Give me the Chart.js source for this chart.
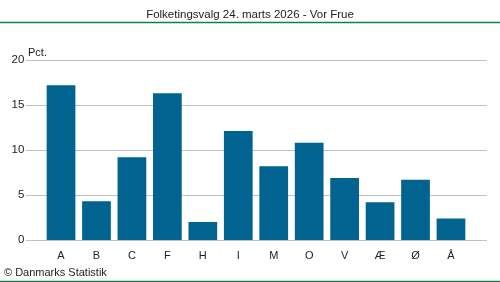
<!DOCTYPE html>
<html>
<head>
<meta charset="utf-8">
<script src="https://cdn.jsdelivr.net/npm/chart.js@4"></script>
<style>
  html, body { margin: 0; padding: 0; background: #fff; }
  #wrap { width: 500px; height: 282px; position: relative; }
</style>
</head>
<body>
<div id="wrap"><canvas id="chart"></canvas></div>
<script>
// Partier og stemmeandele (pct.)
const parties = ["A", "B", "C", "F", "H", "I", "M", "O", "V", "Æ", "Ø", "Å"];
const shares = [17.2, 4.3, 9.2, 16.3, 2.0, 12.1, 8.2, 10.8, 6.9, 4.2, 6.7, 2.4];
const yTicks = [0, 5, 10, 15, 20];

const titleText = "Folketingsvalg 24. marts 2026 - Vor Frue";
const sourceText = "© Danmarks Statistik";
const unitText = "Pct.";

const font = "'Liberation Sans', Arial, sans-serif";

// green rules, extended grid lines and the unit label
const decorations = {
    id: 'decorations',
    beforeDatasetsDraw(chart) {
        const ctx = chart.ctx;
        const y = chart.scales.y;
        ctx.save();
        ctx.strokeStyle = '#c0c0c8';
        ctx.lineWidth = 1;
        yTicks.forEach(v => {
            const py = Math.round(y.getPixelForValue(v)) + 0.5;
            ctx.beginPath();
            ctx.moveTo(26, py);
            ctx.lineTo(487, py);
            ctx.stroke();
        });
        ctx.restore();
    },
    afterDraw(chart) {
        const ctx = chart.ctx;
        ctx.save();
        ctx.strokeStyle = '#12804a';
        ctx.lineWidth = 1.5;
        ctx.beginPath();
        ctx.moveTo(0, 22.5);
        ctx.lineTo(500, 22.5);
        ctx.moveTo(0, 281.5);
        ctx.lineTo(500, 281.5);
        ctx.stroke();
        ctx.fillStyle = '#222';
        ctx.font = "11px " + font;
        ctx.textBaseline = 'alphabetic';
        ctx.fillText(unitText, 28, 56);
        ctx.restore();
    }
};

new Chart(document.getElementById('chart'), {
    type: 'bar',
    data: {
        labels: parties,
        datasets: [{
            data: shares,
            backgroundColor: '#006390',
            barPercentage: 0.81,
            categoryPercentage: 1.0
        }]
    },
    options: {
        responsive: true,
        maintainAspectRatio: false,
        animation: false,
        layout: { padding: { left: 4, right: 4, top: 0, bottom: 0 } },
        plugins: {
            legend: { display: false },
            tooltip: { enabled: false },
            title: {
                display: true,
                text: titleText,
                color: '#222',
                font: { family: font, size: 11.5, weight: 'normal' },
                padding: { top: 7.5, bottom: 38.7 }
            },
            subtitle: {
                display: true,
                text: sourceText,
                position: 'bottom',
                align: 'start',
                color: '#222',
                font: { family: font, size: 11, weight: 'normal' },
                padding: { top: 4, bottom: 2.4 }
            }
        },
        scales: {
            x: {
                afterFit(scale) { scale.height = 22.4; },
                grid: { display: false, drawTicks: false },
                border: { display: false },
                ticks: { color: '#222', font: { family: font, size: 11 }, padding: 9, maxRotation: 0 }
            },
            y: {
                min: 0,
                max: 20,
                afterFit(scale) { scale.width = 39.3; },
                grid: { display: false, drawTicks: false },
                border: { display: false },
                ticks: {
                    stepSize: 5,
                    color: '#222',
                    font: { family: font, size: 11.5 },
                    padding: 19
                }
            },
            yRight: {
                position: 'right',
                min: 0,
                max: 20,
                afterFit(scale) { scale.width = 27.3; },
                grid: { display: false, drawTicks: false },
                border: { display: false },
                ticks: { display: false }
            }
        }
    },
    plugins: [decorations]
});
</script>
</body>
</html>
